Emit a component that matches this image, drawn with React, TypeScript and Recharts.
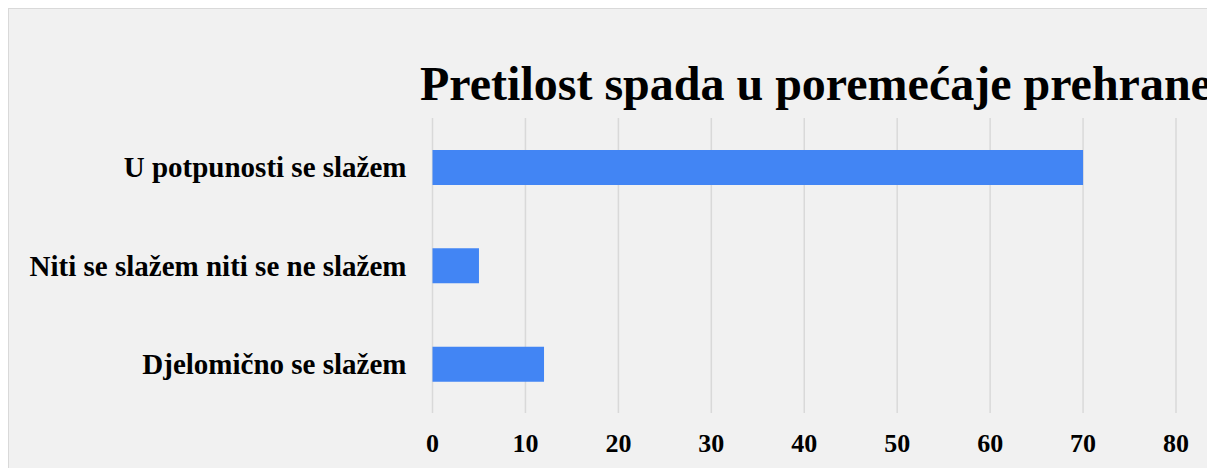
import React from "react";
import { BarChart, Bar, XAxis, YAxis, CartesianGrid } from "recharts";

const categories = [
  "U potpunosti se slažem",
  "Niti se slažem niti se ne slažem",
  "Djelomično se slažem",
];
const values = [70, 5, 12];
const xTicks = [0, 10, 20, 30, 40, 50, 60, 70, 80];
const title = "Pretilost spada u poremećaje prehrane";

const data = categories.map((c, i) => ({ name: c, value: values[i] }));

const FONT = "'Liberation Serif', 'Times New Roman', serif";

export default function App() {
  return (
    <div style={{ width: 1191, height: 452, position: "relative" }}>
      <style>{`html{overflow:hidden}`}</style>
      <div
        style={{
          position: "fixed",
          left: 8,
          top: 8,
          right: 0,
          bottom: 0,
          overflow: "hidden",
        }}
      >
        <div
          style={{
            position: "absolute",
            left: 0,
            top: 0,
            width: 1260,
            height: 480,
            background: "#f1f1f1",
            border: "1px solid #d9d9d9",
            borderRight: "none",
            borderBottom: "none",
          }}
        >
          <div
            style={{
              position: "absolute",
              left: 411,
              top: 51,
              fontFamily: FONT,
              fontWeight: "bold",
              fontSize: 48,
              lineHeight: "48px",
              whiteSpace: "nowrap",
              color: "#000",
            }}
          >
            {title}
          </div>
          <BarChart
            width={1250}
            height={470}
            data={data}
            layout="vertical"
            margin={{ top: 109, right: 83, bottom: 0, left: 0 }}
            style={{ position: "absolute", left: 0, top: 0 }}
          >
            <CartesianGrid horizontal={false} vertical={true} stroke="#d9d9d9" strokeWidth={1.5} />
            <XAxis
              type="number"
              domain={[0, 80]}
              ticks={xTicks}
              axisLine={false}
              tickLine={false}
              tickMargin={15}
              height={66}
              tick={{ fontFamily: FONT, fontWeight: "bold", fontSize: 26, fill: "#000" }}
            />
            <YAxis
              type="category"
              dataKey="name"
              width={423.5}
              axisLine={false}
              tickLine={false}
              tickMargin={20}
              tick={{ fontFamily: FONT, fontWeight: "bold", fontSize: 29, fill: "#000" }}
            />
            <Bar dataKey="value" fill="#4285f4" barSize={35} isAnimationActive={false} />
          </BarChart>
        </div>
      </div>
    </div>
  );
}
